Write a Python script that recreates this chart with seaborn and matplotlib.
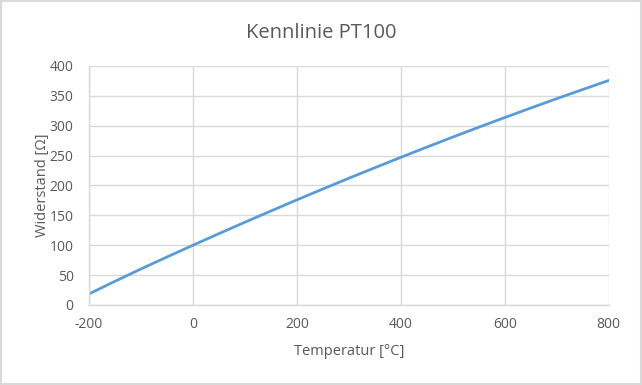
import matplotlib
matplotlib.use("Agg")
import matplotlib.pyplot as plt
import seaborn as sns
import pandas as pd
from matplotlib.patches import Rectangle


# DATA
# PT100 resistance every 50 degC
temperature = [-200, -150, -100, -50, 0, 50, 100, 150, 200, 250, 300,
               350, 400, 450, 500, 550, 600, 650, 700, 750, 800]
resistance = [18.5, 39.7, 60.3, 80.3, 100.0, 119.4, 138.5, 157.3, 175.9,
              194.1, 212.1, 229.7, 247.1, 264.2, 281.0, 297.5, 313.7,
              329.6, 345.3, 360.6, 375.7]
x_ticks = [-200, 0, 200, 400, 600, 800]
y_ticks = [0, 50, 100, 150, 200, 250, 300, 350, 400]

df = pd.DataFrame({"Temperatur": temperature, "Widerstand": resistance})


# STYLE
sns.set_style("white")
plt.rcParams['font.family'] = ['Open Sans', 'DejaVu Sans']
plt.rcParams['axes.unicode_minus'] = False
text_grey = "#595959"
grid_grey = "#d9d9d9"


# PLOT
fig = plt.figure(figsize=(6.42, 3.85), dpi=100)
ax = fig.add_axes([0.1386, 0.2078, 0.8094, 0.6208])

sns.lineplot(data=df, x="Temperatur", y="Widerstand", ax=ax,
             color="#5b9bd5", linewidth=2.0)

ax.set_xlim(-200, 800)
ax.set_ylim(0, 400)
ax.set_xticks(x_ticks)
ax.set_yticks(y_ticks)
ax.tick_params(axis="both", length=0, labelsize=10, colors=text_grey)
ax.tick_params(axis="x", pad=9)
ax.tick_params(axis="y", pad=11)
ax.grid(True, color=grid_grey, linewidth=1.0)
ax.set_axisbelow(True)
for side in ["right", "top"]:
    ax.spines[side].set_visible(False)
for side in ["left", "bottom"]:
    ax.spines[side].set_color(grid_grey)
    ax.spines[side].set_linewidth(1.0)

ax.set_xlabel("Temperatur [°C]", fontsize=10.5, color=text_grey, labelpad=8)
ax.set_ylabel("Widerstand [Ω]", fontsize=10.5, color=text_grey, labelpad=0)
fig.suptitle("Kennlinie PT100", fontsize=14.5, color=text_grey, y=0.94)

# chart area border
fig.patches.append(Rectangle((0.002, 0.003), 0.996, 0.994, transform=fig.transFigure,
                             fill=False, edgecolor=grid_grey, linewidth=1.5))

fig.savefig("out.png", dpi=100)
